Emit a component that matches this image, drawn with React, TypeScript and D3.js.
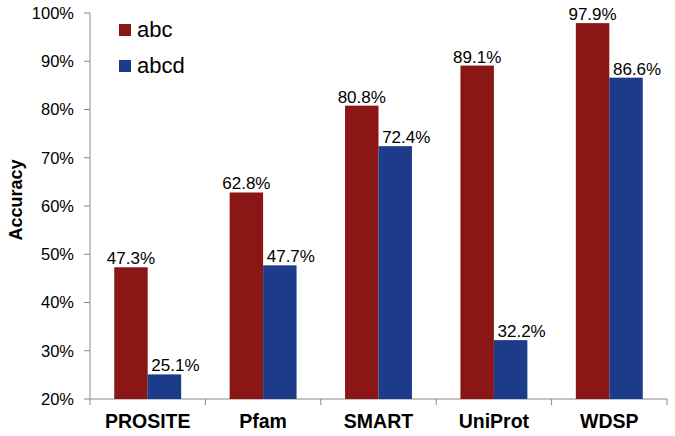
import React, { useEffect, useRef } from "react";
import * as d3 from "d3";

const categories = ["PROSITE", "Pfam", "SMART", "UniProt", "WDSP"];
const seriesNames = ["abc", "abcd"];
const abcValues = [47.3, 62.8, 80.8, 89.1, 97.9];
const abcdValues = [25.1, 47.7, 72.4, 32.2, 86.6];
const yTicks = [20, 30, 40, 50, 60, 70, 80, 90, 100];
const colors = ["#8b1616", "#1c3c8a"];

const width = 675;
const height = 436;
const margin = { top: 13, right: 8, bottom: 37, left: 90 };
const font = "Liberation Sans, Arial, Helvetica, sans-serif";

const draw = (node: SVGSVGElement) => {
  const chartW = width - margin.left - margin.right;
  const chartH = height - margin.top - margin.bottom;
  const svg = d3.select(node);
  svg.selectAll("*").remove();
  const g = svg
    .append("g")
    .attr("transform", "translate(" + margin.left + "," + margin.top + ")");

  const x = d3
    .scaleBand()
    .domain(categories)
    .range([0, chartW])
    .paddingInner(0.42)
    .paddingOuter(0.21);
  const x1 = d3
    .scaleBand()
    .domain(seriesNames)
    .range([0, x.bandwidth()]);
  const y = d3.scaleLinear().domain([20, 100]).range([chartH, 0]);

  // y axis
  g.append("line")
    .attr("x1", 0)
    .attr("x2", 0)
    .attr("y1", 0)
    .attr("y2", chartH)
    .attr("stroke", "#888");
  g.selectAll(".ytick")
    .data(yTicks)
    .enter()
    .append("line")
    .attr("x1", -6)
    .attr("x2", 0)
    .attr("y1", d => y(d))
    .attr("y2", d => y(d))
    .attr("stroke", "#888");
  g.selectAll(".ylabel")
    .data(yTicks)
    .enter()
    .append("text")
    .attr("x", -16)
    .attr("y", d => y(d))
    .attr("dy", "0.35em")
    .attr("text-anchor", "end")
    .style("font-family", font)
    .style("font-size", "16.5px")
    .text(d => d + "%");

  // x axis, ticks between groups
  const step = x.step();
  const bounds = d3.range(categories.length + 1).map(i => i * step);
  g.append("line")
    .attr("x1", 0)
    .attr("x2", chartW)
    .attr("y1", chartH)
    .attr("y2", chartH)
    .attr("stroke", "#888");
  g.selectAll(".xtick")
    .data(bounds)
    .enter()
    .append("line")
    .attr("x1", d => d)
    .attr("x2", d => d)
    .attr("y1", chartH)
    .attr("y2", chartH + 6)
    .attr("stroke", "#888");
  g.selectAll(".xlabel")
    .data(categories)
    .enter()
    .append("text")
    .attr("x", d => (x(d) as number) + x.bandwidth() / 2)
    .attr("y", chartH + 29)
    .attr("text-anchor", "middle")
    .style("font-family", font)
    .style("font-size", "19.5px")
    .style("font-weight", "bold")
    .text(d => d);

  // bars
  const series = [abcValues, abcdValues];
  series.forEach((vals, si) => {
    const grp = g.append("g");
    grp
      .selectAll("rect")
      .data(vals)
      .enter()
      .append("rect")
      .attr("x", (d, i) => (x(categories[i]) as number) + (x1(seriesNames[si]) as number))
      .attr("width", x1.bandwidth())
      .attr("y", d => y(d))
      .attr("height", d => chartH - y(d))
      .attr("fill", colors[si]);
    grp
      .selectAll("text")
      .data(vals)
      .enter()
      .append("text")
      .attr("x", (d, i) => (x(categories[i]) as number) + (x1(seriesNames[si]) as number) + x1.bandwidth() / 2)
      .attr("dx", si === 1 ? 11 : 0)
      .attr("y", d => y(d) - 3)
      .attr("text-anchor", "middle")
      .style("font-family", font)
      .style("font-size", "17px")
      .text(d => d.toFixed(1) + "%");
  });

  // legend
  seriesNames.forEach((name, i) => {
    const lg = g.append("g").attr("transform", "translate(29," + (11 + i * 36) + ")");
    lg.append("rect").attr("width", 12).attr("height", 12).attr("fill", colors[i]);
    lg.append("text")
      .attr("x", 18)
      .attr("y", 13)
      .style("font-family", font)
      .style("font-size", "22px")
      .text(name);
  });

  // y title
  svg
    .append("text")
    .attr("transform", "translate(22,200) rotate(-90)")
    .attr("text-anchor", "middle")
    .style("font-family", font)
    .style("font-size", "18px")
    .style("font-weight", "bold")
    .text("Accuracy");
};

const App = () => {
  const ref = useRef<SVGSVGElement>(null);
  useEffect(() => {
    if (ref.current) draw(ref.current);
  }, []);
  return (
    <svg
      ref={ref}
      width={width}
      height={height}
      style={{ position: "absolute", left: 0, top: 0, background: "#fff" }}
    />
  );
};

export default App;
